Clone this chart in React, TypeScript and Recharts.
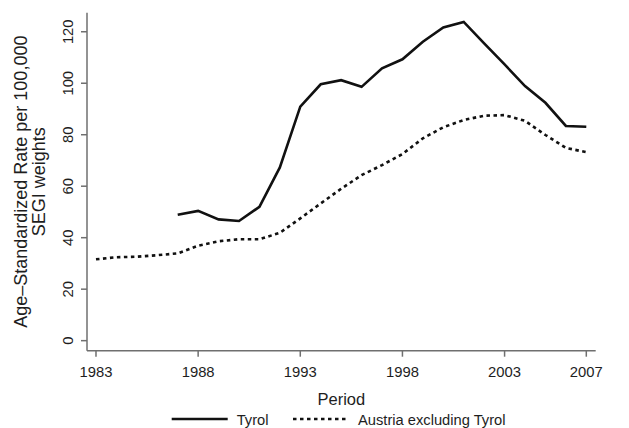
import React from "react";
import { LineChart, Line, XAxis, YAxis, Legend } from "recharts";

const years = [1983, 1984, 1985, 1986, 1987, 1988, 1989, 1990, 1991, 1992, 1993, 1994, 1995, 1996, 1997, 1998, 1999, 2000, 2001, 2002, 2003, 2004, 2005, 2006, 2007];
const tyrol: (number | null)[] = [null, null, null, null, 48.9, 50.4, 47.1, 46.5, 52.0, 67.3, 90.9, 99.6, 101.2, 98.6, 105.8, 109.3, 116.1, 121.7, 123.8, 115.5, 107.3, 98.9, 92.4, 83.4, 83.1];
const austria = [31.6, 32.4, 32.6, 33.2, 33.9, 36.9, 38.6, 39.4, 39.4, 41.9, 47.5, 53.3, 59.0, 64.3, 68.2, 72.5, 78.6, 82.9, 85.7, 87.4, 87.6, 85.4, 79.9, 74.9, 73.2];
const xTicks = [1983, 1988, 1993, 1998, 2003, 2007];
const yTicks = [0, 20, 40, 60, 80, 100, 120];

const data = years.map((y, i) => ({ year: y, tyrol: tyrol[i], austria: austria[i] }));

const FONT = "'Liberation Sans', Arial, Helvetica, sans-serif";
const AXIS = "#6f6f6f";
const TEXT = "#1e1e1e";
const LINE = "#111111";

const YTick = (props: any) => {
  const { x, y, payload } = props;
  return (
    <text x={x} y={y} transform={`rotate(-90, ${x}, ${y})`} textAnchor="middle" fontSize={14.8} fill={TEXT} fontFamily={FONT}>
      {payload.value}
    </text>
  );
};

const YTitle = (props: any) => {
  const vb = props.viewBox || {};
  const cy = (vb.y ?? 12.7) + (vb.height ?? 338) / 2;
  return (
    <g>
      <text x={26.7} y={cy} transform={`rotate(-90, 26.7, ${cy})`} textAnchor="middle" fontSize={18} fill={TEXT} fontFamily={FONT}>
        Age–Standardized Rate per 100,000
      </text>
      <text x={45} y={cy} transform={`rotate(-90, 45, ${cy})`} textAnchor="middle" fontSize={18} fill={TEXT} fontFamily={FONT}>
        SEGI weights
      </text>
    </g>
  );
};

const XTitle = (props: any) => {
  const vb = props.viewBox || {};
  const cx = (vb.x ?? 87) + (vb.width ?? 508) / 2;
  return (
    <text x={cx} y={405} textAnchor="middle" fontSize={16.5} fill={TEXT} fontFamily={FONT}>
      Period
    </text>
  );
};

const LegendContent = () => (
  <svg width={629} height={20} style={{ display: "block" }}>
    <line x1={171.7} x2={227.7} y1={10} y2={10} stroke={LINE} strokeWidth={2.6} />
    <text x={236.7} y={16} fontSize={14.7} fill={TEXT} fontFamily={FONT}>Tyrol</text>
    <line x1={293} x2={348} y1={10} y2={10} stroke={LINE} strokeWidth={2.6} strokeDasharray="3.5 3.5" />
    <text x={358} y={16} fontSize={14.7} fill={TEXT} fontFamily={FONT}>Austria excluding Tyrol</text>
  </svg>
);

export default function App() {
  return (
    <div style={{ position: "absolute", left: 0, top: 0, width: 629, height: 428, background: "#fff" }}>
      <LineChart width={629} height={428} data={data} margin={{ top: 12.7, right: 33.3, left: 27, bottom: 47.3 }}>
        <XAxis
          dataKey="year"
          type="number"
          domain={[1982.56, 2007.46]}
          ticks={xTicks}
          allowDataOverflow
          height={30}
          tickSize={6}
          tickMargin={10}
          stroke={AXIS}
          strokeWidth={1.5}
          tick={{ fill: TEXT, fontSize: 14.8, fontFamily: FONT }}
          label={<XTitle />}
        />
        <YAxis
          type="number"
          domain={[-3.9, 127.4]}
          ticks={yTicks}
          allowDataOverflow
          width={60}
          tickSize={6}
          tickMargin={8}
          stroke={AXIS}
          strokeWidth={1.5}
          tick={<YTick />}
          label={<YTitle />}
        />
        <Legend verticalAlign="middle" align="center" layout="horizontal" wrapperStyle={{ top: 409, left: 0, width: 629 }} content={<LegendContent />} />
        <Line type="linear" dataKey="tyrol" name="Tyrol" stroke={LINE} strokeWidth={2.6} dot={false} activeDot={false} isAnimationActive={false} connectNulls={false} />
        <Line type="linear" dataKey="austria" name="Austria excluding Tyrol" stroke={LINE} strokeWidth={2.6} strokeDasharray="3.5 3.5" dot={false} activeDot={false} isAnimationActive={false} />
      </LineChart>
    </div>
  );
}
